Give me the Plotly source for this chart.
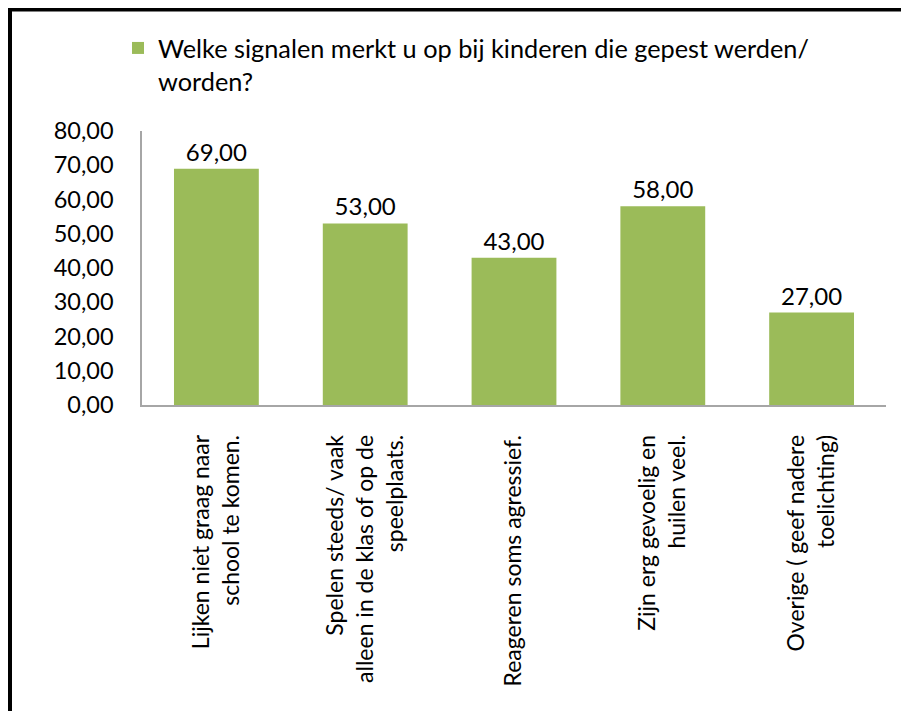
import plotly.graph_objects as go

categories = [
    "Lijken niet graag naar<br>school te komen.",
    "Spelen steeds/ vaak<br>alleen in de klas of op de<br>speelplaats.",
    "Reageren soms agressief.",
    "Zijn erg gevoelig en<br>huilen veel.",
    "Overige ( geef nadere<br>toelichting)",
]
values = [69.0, 53.0, 43.0, 58.0, 27.0]
series_name = "Welke signalen merkt u op bij kinderen die gepest werden/<br>worden?"
y_ticks = [0, 10, 20, 30, 40, 50, 60, 70, 80]

FONT = "Lato"
GREEN = "#9BBB59"

fig = go.Figure()
fig.add_trace(go.Bar(
    x=categories,
    y=values,
    name=series_name,
    marker=dict(color=GREEN, line=dict(width=0)),
    texttemplate="%{y:.2f}",
    textposition="outside",
    textfont=dict(family=FONT, size=24, color="#000000"),
    cliponaxis=False,
    showlegend=True,
))

# page body adds an 8px offset; positions below are in figure pixels
W, H = 909, 711
L, R, T, B = 134, 31, 123, 314
pw = W - L - R
ph = H - T - B

def px_x(p):
    return (p - L) / pw

def px_y(p):
    return (H - B - p) / ph

fig.update_layout(
    width=W, height=H,
    margin=dict(l=L, r=R, t=T, b=B, pad=0),
    paper_bgcolor="white",
    plot_bgcolor="white",
    separators=",.",
    bargap=0.43,
    font=dict(family=FONT, size=23, color="#000000"),
    showlegend=True,
    legend=dict(
        x=px_x(110), y=px_y(17), xanchor="left", yanchor="top",
        valign="top",
        font=dict(family=FONT, size=25.3, color="#000000"),
        bgcolor="rgba(0,0,0,0)",
        itemclick=False, itemdoubleclick=False,
    ),
    xaxis=dict(
        tickangle=-90,
        showline=True, linecolor="#A6A6A6", linewidth=1.5,
        showgrid=False, ticks="", zeroline=False,
        ticklabelstandoff=19,
        tickfont=dict(family=FONT, size=23, color="#000000"),
    ),
    yaxis=dict(
        range=[0, 80],
        tickvals=y_ticks,
        tickformat=".2f",
        showline=True, linecolor="#A6A6A6", linewidth=1.5,
        showgrid=False, ticks="", zeroline=False,
        ticklabelstandoff=22,
        tickfont=dict(family=FONT, size=23.5, color="#000000"),
    ),
    shapes=[
        dict(type="line", xref="paper", yref="paper",
             x0=px_x(0), x1=px_x(915), y0=px_y(1.5), y1=px_y(1.5),
             line=dict(color="#000000", width=4)),
        dict(type="line", xref="paper", yref="paper",
             x0=px_x(2), x1=px_x(2), y0=px_y(-1), y1=px_y(720),
             line=dict(color="#000000", width=4)),
    ],
)

fig.write_html("out.html")
